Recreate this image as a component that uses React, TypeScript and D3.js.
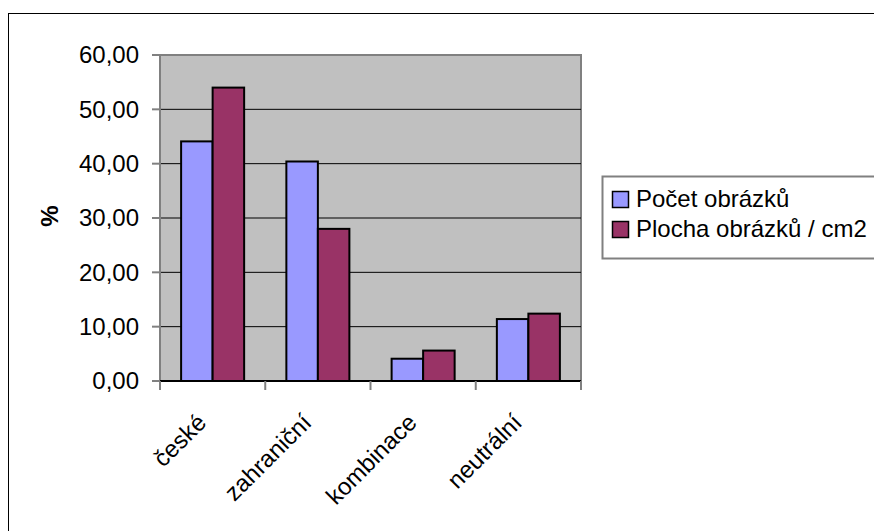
import * as d3 from "d3";

const CATEGORIES = ["české", "zahraniční", "kombinace", "neutrální"];
const SERIES = ["Počet obrázků", "Plocha obrázků / cm2"];
const POCET = [44.1, 40.4, 4.1, 11.4];
const PLOCHA = [54.0, 28.0, 5.6, 12.4];
const Y_TICKS = [0, 10, 20, 30, 40, 50, 60];

const COLORS = ["#9999FF", "#993366"];

const WIDTH = 874;
const HEIGHT = 531;
const PLOT = { left: 160, right: 581, top: 55, bottom: 381 };
const FONT = "'Liberation Sans', Arial, sans-serif";
const FS = 24;

const fmt = (v: number) => d3.format(".2f")(v).replace(".", ",");

export default function App() {
  const values = [POCET, PLOCHA];

  const x = d3
    .scaleBand()
    .domain(CATEGORIES)
    .range([PLOT.left, PLOT.right])
    .padding(0);

  const xInner = d3
    .scaleBand()
    .domain(SERIES)
    .range([0, x.bandwidth()])
    .paddingInner(0)
    .paddingOuter(0.67);

  const y = d3.scaleLinear().domain([0, 60]).range([PLOT.bottom, PLOT.top]);

  // category boundaries for tick marks
  const catEdges = [...CATEGORIES.map((c) => x(c)!), PLOT.right];

  return (
    <svg
      width={WIDTH}
      height={HEIGHT}
      style={{ position: "fixed", left: 0, top: 0, background: "#fff" }}
      fontFamily={FONT}
    >
      {/* outer chart border */}
      <rect x={8.5} y={13.5} width={WIDTH} height={HEIGHT} fill="#fff" stroke="#000" />

      {/* plot area */}
      <rect
        x={PLOT.left}
        y={PLOT.top}
        width={PLOT.right - PLOT.left}
        height={PLOT.bottom - PLOT.top}
        fill="#C0C0C0"
        stroke="#808080"
        strokeWidth={2}
      />

      {/* gridlines */}
      {Y_TICKS.filter((t) => t > 0 && t < 60).map((t) => (
        <line
          key={t}
          x1={PLOT.left}
          x2={PLOT.right}
          y1={y(t)}
          y2={y(t)}
          stroke="#000"
          strokeWidth={1}
        />
      ))}

      {/* y axis */}
      <line x1={PLOT.left} x2={PLOT.left} y1={PLOT.top} y2={PLOT.bottom} stroke="#808080" strokeWidth={2} />
      {Y_TICKS.map((t) => (
        <g key={t}>
          <line x1={PLOT.left - 8} x2={PLOT.left} y1={y(t)} y2={y(t)} stroke="#808080" strokeWidth={2} />
          <text
            x={139}
            y={y(t)}
            dy="0.35em"
            textAnchor="end"
            fontSize={FS}
            fill="#000"
          >
            {fmt(t)}
          </text>
        </g>
      ))}
      <text
        transform={`translate(${58},${216}) rotate(-90)`}
        textAnchor="middle"
        fontSize={FS}
        fontWeight="bold"
      >
        %
      </text>

      {/* bars */}
      {CATEGORIES.map((c, i) => (
        <g key={c}>
          {SERIES.map((s, j) => {
            const v = values[j][i];
            return (
              <rect
                key={s}
                x={x(c)! + xInner(s)!}
                y={y(v)}
                width={xInner.bandwidth()}
                height={y(0) - y(v)}
                fill={COLORS[j]}
                stroke="#000"
                strokeWidth={2}
              />
            );
          })}
        </g>
      ))}

      {/* x axis */}
      <line x1={PLOT.left} x2={PLOT.right} y1={PLOT.bottom} y2={PLOT.bottom} stroke="#000" strokeWidth={2} />
      {catEdges.map((e, i) => (
        <line key={i} x1={e} x2={e} y1={PLOT.bottom} y2={PLOT.bottom + 9} stroke="#808080" strokeWidth={2} />
      ))}
      {CATEGORIES.map((c) => (
        <text
          key={c}
          transform={`translate(${x(c)! + x.bandwidth() / 2 - 5},${424}) rotate(-45)`}
          textAnchor="end"
          fontSize={FS}
        >
          {c}
        </text>
      ))}

      {/* legend */}
      <rect x={602.5} y={176.5} width={300} height={82} fill="#fff" stroke="#808080" strokeWidth={2} />
      {SERIES.map((s, j) => (
        <g key={s} transform={`translate(612,${191 + j * 30})`}>
          <rect x={0.5} y={0.5} width={16} height={16} fill={COLORS[j]} stroke="#000" strokeWidth={1.5} />
          <text x={24} y={16} fontSize={FS}>
            {s}
          </text>
        </g>
      ))}
    </svg>
  );
}
